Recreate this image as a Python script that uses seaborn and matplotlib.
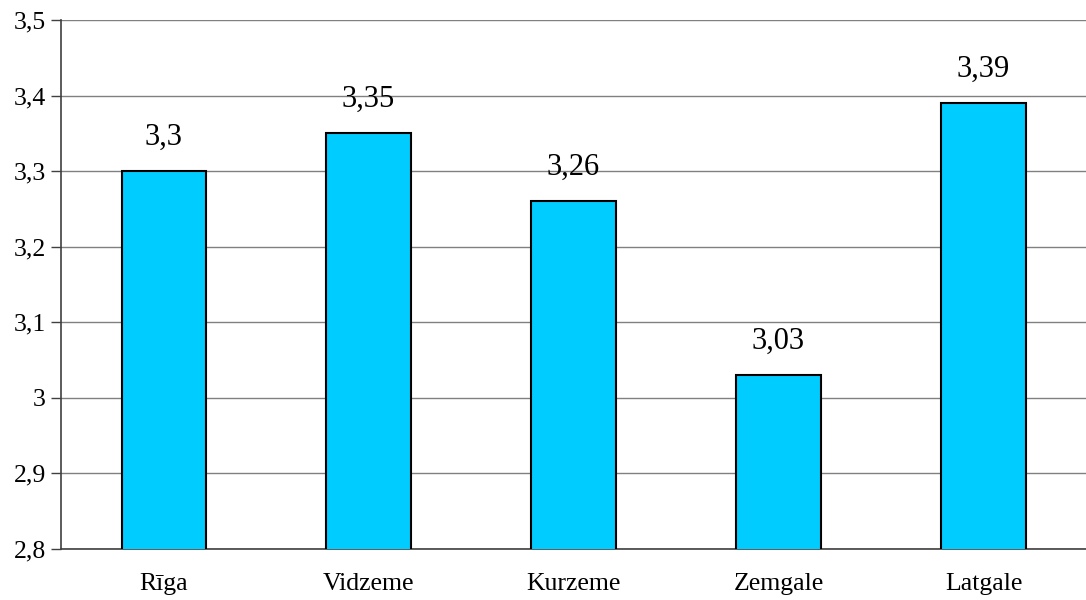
import pandas as pd
import matplotlib.pyplot as plt
import seaborn as sns

regions = ['Rīga', 'Vidzeme', 'Kurzeme', 'Zemgale', 'Latgale']
scores = [3.30, 3.35, 3.26, 3.03, 3.39]
score_labels = ['3,3', '3,35', '3,26', '3,03', '3,39']
yticks = [2.8, 2.9, 3.0, 3.1, 3.2, 3.3, 3.4, 3.5]
ytick_labels = ['2,8', '2,9', '3', '3,1', '3,2', '3,3', '3,4', '3,5']

data = pd.DataFrame({'region': regions, 'score': scores})

sns.set_style('white')
plt.rcParams['font.family'] = ['Liberation Serif', 'DejaVu Serif']
plt.rcParams['text.color'] = 'black'
plt.rcParams['xtick.color'] = 'black'
plt.rcParams['ytick.color'] = 'black'

fig = plt.figure(figsize=(10.86, 6), dpi=100)
ax = fig.add_axes([0.0562, 0.085, 0.9438, 0.8817])

sns.barplot(x='region', y='score', data=data, color='#00CCFF', saturation=1,
            width=0.41, edgecolor='black', linewidth=1.5, ax=ax, zorder=3)

ax.set_ylim(2.8, 3.5)
ax.set_xlim(-0.5, 4.5)
ax.set_yticks(yticks)
ax.set_yticklabels(ytick_labels, fontsize=18.5)
ax.yaxis.grid(True, color='#808080', linewidth=1)
ax.set_axisbelow(True)

# category boundary ticks on x axis
ax.set_xticks([i - 0.5 for i in range(len(regions) + 1)], minor=True)
ax.tick_params(axis='x', which='major', length=0, labelsize=18.5, pad=17)
ax.tick_params(axis='x', which='minor', length=7, width=1, color='#404040', direction='out')
ax.tick_params(axis='y', length=7, width=1, color='#404040', direction='out', left=True, pad=4)

for i, (v, lab) in enumerate(zip(scores, score_labels)):
    ax.annotate(lab, (i, v), xytext=(0, 14), textcoords='offset points',
                ha='center', va='bottom', fontsize=22, color='black')

for s in ['top', 'right']:
    ax.spines[s].set_visible(False)
for s in ['left', 'bottom']:
    ax.spines[s].set_color('#404040')
    ax.spines[s].set_linewidth(1.2)

ax.set_xlabel('')
ax.set_ylabel('')

fig.savefig('out.png', dpi=100)
